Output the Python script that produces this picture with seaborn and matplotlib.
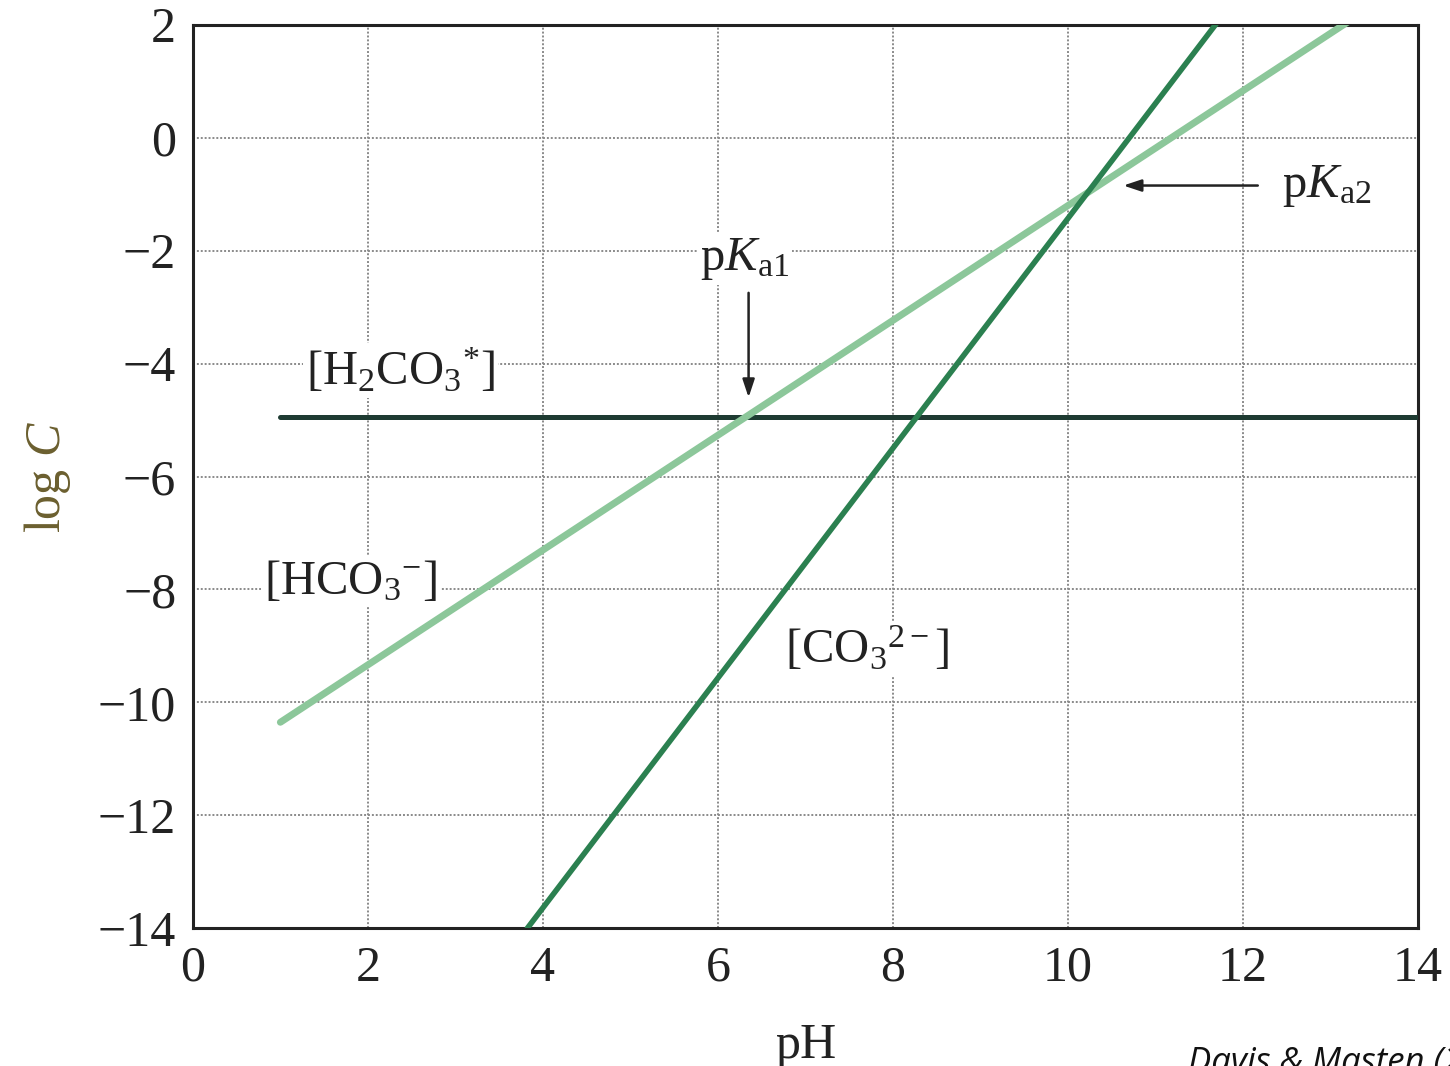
import matplotlib
matplotlib.use("Agg")
import matplotlib.pyplot as plt
import seaborn as sns
import pandas as pd

# Data (line endpoints)
h2co3_ph = [1.0, 14.0]
h2co3_logc = [-4.95, -4.95]
hco3_ph = [1.0, 13.3]
hco3_logc = [-10.35, 2.15]
co3_ph = [3.82, 11.76]
co3_logc = [-14.0, 2.15]

x_ticks = [0, 2, 4, 6, 8, 10, 12, 14]
y_ticks = [2, 0, -2, -4, -6, -8, -10, -12, -14]

df = pd.concat([
    pd.DataFrame({"pH": h2co3_ph, "logC": h2co3_logc, "species": "H2CO3"}),
    pd.DataFrame({"pH": hco3_ph, "logC": hco3_logc, "species": "HCO3"}),
    pd.DataFrame({"pH": co3_ph, "logC": co3_logc, "species": "CO3"}),
], ignore_index=True)

sns.set_theme(style="white")
plt.rcParams["font.family"] = ["Liberation Serif", "DejaVu Serif"]
plt.rcParams["mathtext.fontset"] = "custom"
plt.rcParams["mathtext.rm"] = "Liberation Serif"
plt.rcParams["mathtext.it"] = "Liberation Serif:italic"

fig = plt.figure(figsize=(14.5, 10.66), dpi=100)
ax = fig.add_axes([0.133, 0.129, 0.845, 0.848])

palette = {"H2CO3": "#1e3b32", "HCO3": "#8cc79a", "CO3": "#2b8050"}
widths = {"H2CO3": 3.6, "HCO3": 5.0, "CO3": 4.0}
for sp in ["H2CO3", "HCO3", "CO3"]:
    sub = df[df["species"] == sp]
    sns.lineplot(data=sub, x="pH", y="logC", color=palette[sp], lw=widths[sp],
                 ax=ax, zorder=3, legend=False, sort=False)

ax.set_xlim(0, 14)
ax.set_ylim(-14, 2)
ax.set_xticks(x_ticks)
ax.set_yticks(y_ticks)
ax.set_xticklabels([str(t) for t in x_ticks])
ax.set_yticklabels([str(t).replace("-", "\u2212") for t in y_ticks])
ax.tick_params(axis="both", labelsize=36, length=0, pad=12, colors="#222222")
ax.grid(True, color="#8a8a8a", lw=1.4, ls=(0, (1, 1)), zorder=0)
for s in ax.spines.values():
    s.set_color("#222222")
    s.set_linewidth(2.2)

ax.set_xlabel("pH", fontsize=36, color="#222222", labelpad=22)
ax.set_ylabel("log $\\it{C}$", fontsize=36, color="#6b5f2f", labelpad=18)

fs = 35
bbox = dict(facecolor="white", edgecolor="none", pad=2)
ax.text(2.37, -4.12, "[H$_2$CO$_3$$^{*}$]", fontsize=fs, ha="center", va="center",
        bbox=bbox, zorder=4, color="#222222")
ax.text(1.8, -7.85, "[HCO$_3$$^{-}$]", fontsize=fs, ha="center", va="center",
        bbox=bbox, zorder=4, color="#222222")
ax.text(7.7, -9.05, "[CO$_3$$^{2-}$]", fontsize=fs, ha="center", va="center",
        bbox=bbox, zorder=4, color="#222222")
ax.text(6.3, -2.15, "p$\\it{K}$$_{\\rm a1}$", fontsize=fs, ha="center", va="center",
        bbox=bbox, zorder=4, color="#222222")
ax.text(12.95, -0.85, "p$\\it{K}$$_{\\rm a2}$", fontsize=fs, ha="center", va="center",
        bbox=bbox, zorder=4, color="#222222")

arrow = dict(arrowstyle="-|>,head_length=0.9,head_width=0.3", color="#222222", lw=1.8)
ax.annotate("", xy=(6.35, -4.65), xytext=(6.35, -2.7), arrowprops=arrow, zorder=5)
ax.annotate("", xy=(10.6, -0.85), xytext=(12.2, -0.85), arrowprops=arrow, zorder=5)

fig.text(0.819, 0.003, "Davis & Masten (2009)", fontsize=25, style="italic",
         family=["Open Sans", "DejaVu Sans"], color="#111111", ha="left", va="center")

fig.savefig("out.png", dpi=100, facecolor="white")
